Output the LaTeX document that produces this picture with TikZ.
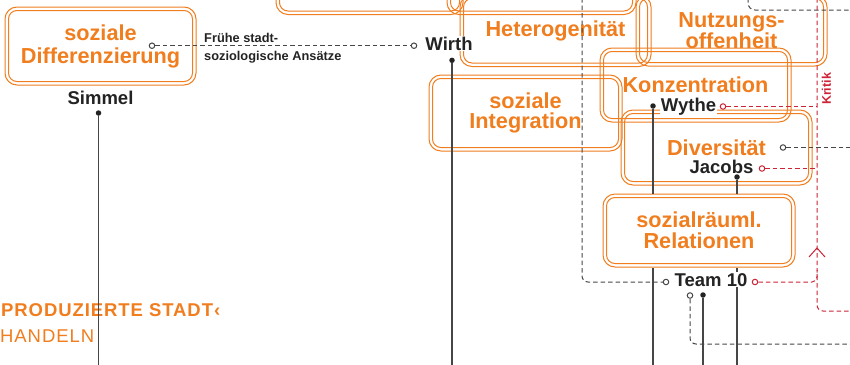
\documentclass[tikz,border=0pt]{standalone}
\usepackage{fontspec}
\setmainfont{Liberation Sans}
\usetikzlibrary{calc,positioning}

\definecolor{stadtorange}{RGB}{240,125,30}
\definecolor{ink}{RGB}{35,35,35}
\definecolor{wiregray}{RGB}{70,70,70}
\definecolor{kritikred}{RGB}{205,35,55}

\tikzset{
  ring/.style={draw=stadtorange, line width=1pt, rounded corners=12pt, inner sep=0pt,
    text=stadtorange, align=center, font=\bfseries\fontsize{21.7}{19.5}\selectfont},
  innerring/.style={draw=stadtorange, line width=1pt, rounded corners=8.5pt},
  author/.style={text=ink, fill=white, inner sep=1pt, font=\bfseries\fontsize{18.5}{20}\selectfont},
  note/.style={text=ink, inner sep=0pt, font=\bfseries\fontsize{12.8}{14}\selectfont},
  wire/.style={draw=wiregray, line width=1.4pt},
  dashwire/.style={draw=wiregray, line width=1pt, dash pattern=on 4.5pt off 3pt},
  redwire/.style={draw=kritikred, line width=1pt, dash pattern=on 4.5pt off 3pt},
  opendot/.style={circle, draw=wiregray, fill=white, line width=1pt, inner sep=0pt, minimum size=5.5pt},
  reddot/.style={opendot, draw=kritikred},
  fulldot/.style={circle, fill=ink, inner sep=0pt, minimum size=5.5pt},
}

\begin{document}
\begin{tikzpicture}[x=1pt, y=-1pt]
\useasboundingbox (0,0) rectangle (850,364);
% Rings of the themes (outer line)
\node[ring, minimum width=187pt, minimum height=74.5pt] (topA) at (369.5,-22.75) {};
\node[ring, minimum width=189pt, minimum height=74.5pt] (topB) at (541.5,-22.75) {};
\node[ring, minimum width=191pt, minimum height=71.5pt] (hetero) at (555.5,30.75) {Heterogenität};
\node[ring, minimum width=191pt, minimum height=71pt] (nutz) at (731.5,30.5) {Nutzungs-\\offenheit};
\node[ring, minimum width=191pt, minimum height=78pt] (diff) at (100.5,46) {soziale\\[3.5pt]Differenzierung};
\node[ring, minimum width=193pt, minimum height=76pt] (integ) at (525.5,113) {soziale\\Integration};
\node[ring, minimum width=191pt, minimum height=74pt] (konz) at (695.5,85) {Konzentration};
\node[ring, minimum width=191pt, minimum height=75pt] (divers) at (716.5,147.5) {Diversität};
\node[ring, minimum width=192pt, minimum height=73pt] (relat) at (699,230.5) {sozialräuml.\\[1.5pt]Relationen};
% Inner line of every ring
\foreach \ring in {topA,topB,hetero,nutz,diff,integ,konz,divers,relat}
  \draw[innerring] ([shift={(4,4)}]\ring.north west) rectangle ([shift={(-4,-4)}]\ring.south east);
% Authors
\node[author, anchor=base] (simmel) at (100.5,104) {Simmel};
\node[author, anchor=base] (wirth) at (449,50) {Wirth};
\node[author, anchor=base] (wythe) at (688.5,111) {Wythe};
\node[author, anchor=base] (jacobs) at (721.5,173) {Jacobs};
\node[author, anchor=base] (team) at (711,286) {Team 10};
% Notes
\node[note, anchor=base west] (fruehe) at (204,42) {Frühe stadt-};
\node[note, anchor=base west] (ansaetze) at (204,60) {soziologische Ansätze};
\node[rotate=90, text=kritikred, inner sep=0pt, font=\bfseries\fontsize{12.5}{14}\selectfont] (kritik) at (826.5,89) {Kritik};
\node[anchor=base west, text=stadtorange, inner sep=0pt,
  font=\bfseries\fontsize{18.5}{20}\selectfont\addfontfeature{LetterSpace=5}] (stadt) at (1,316) {PRODUZIERTE STADT‹};
\node[anchor=base west, text=stadtorange, inner sep=0pt,
  font=\fontsize{18.5}{20}\selectfont\addfontfeature{LetterSpace=5}] (handeln) at (0,342) {HANDELN};
% Dots
\node[fulldot] (simmelD) at (98.5,113) {};
\node[fulldot] (wirthD) at (452,60.3) {};
\node[fulldot] (wytheD) at (653,106) {};
\node[fulldot] (jacobsD) at (737,177) {};
\node[fulldot] (teamD) at (703,295) {};
\node[opendot] (diffR) at (152,45.7) {};
\node[opendot] (wirthL) at (414,45.7) {};
\node[opendot] (teamL) at (666,282) {};
\node[opendot] (teamB) at (690,295.5) {};
\node[opendot] (diversR) at (783,147.5) {};
\node[reddot] (wytheR) at (723,106.5) {};
\node[reddot] (jacobsR) at (762,168.5) {};
\node[reddot] (teamR) at (755,282) {};
% Free ends at the border
\coordinate (bottom) at (0,366);
\coordinate (right) at (852,0);
\coordinate (sideA) at (582,-2);
\coordinate (sideB) at (748,-2);
\coordinate (sideBend) at (852,10);
\coordinate (teamBend) at (852,344);
\coordinate (kritikTop) at (817,-2);
\coordinate (kritikEnd) at (852,311);
\coordinate (kritikTip) at (817,248);
% Solid lines down from the authors
\draw[wire] (simmelD) -- (simmelD |- bottom);
\draw[wire] (wirthD) -- (wirthD |- bottom);
\draw[wire] (wytheD) -- (wytheD |- relat.north);
\draw[wire] (wytheD |- relat.south) -- (wytheD |- bottom);
\draw[wire] (jacobsD) -- (jacobsD |- relat.north);
\draw[wire] (jacobsD |- relat.south) -- (jacobsD |- team.north);
\draw[wire] (jacobsD |- team.south) -- (jacobsD |- bottom);
\draw[wire] (teamD) -- (teamD |- bottom);
% Dashed links
\draw[dashwire] (diffR) -- (wirthL);
\draw[dashwire, rounded corners=6pt] (sideA) |- (teamL);
\draw[dashwire, rounded corners=7pt] (sideB) |- (sideBend);
\draw[dashwire] (diversR) -- (diversR -| right);
\draw[dashwire, rounded corners=6pt] (teamB) |- (teamBend);
% Critique in red
\draw[redwire, rounded corners=6pt] (kritikTop) |- (kritikEnd);
\draw[redwire] (wytheR) -- (wytheR -| kritikTop);
\draw[redwire] (jacobsR) -- (jacobsR -| kritikTop);
\draw[redwire, rounded corners=5pt] (teamR) -| ($(kritikTop |- teamR)+(0,-12)$);
\draw[kritikred, line width=1pt] ($(kritikTip)+(-8,9)$) -- (kritikTip) -- ($(kritikTip)+(8,9)$);
\end{tikzpicture}
\end{document}
